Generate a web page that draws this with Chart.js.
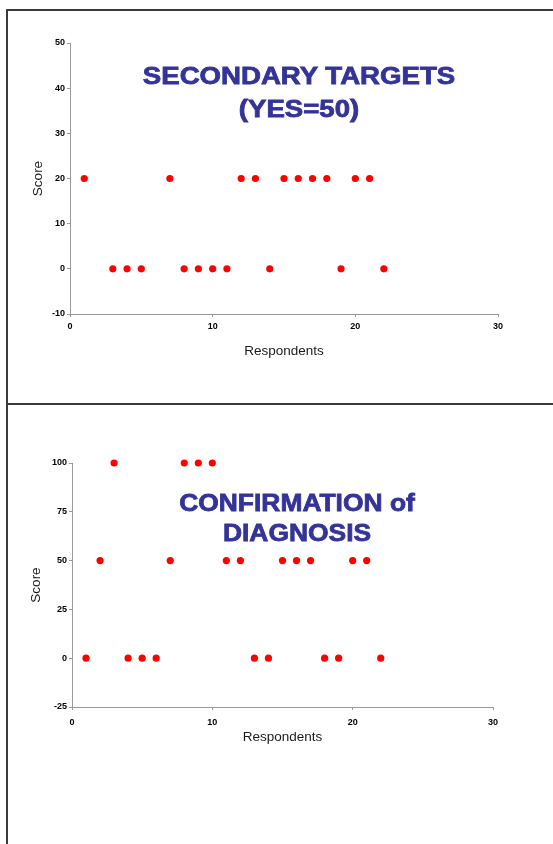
<!DOCTYPE html>
<html>
<head>
<meta charset="utf-8">
<script src="https://cdn.jsdelivr.net/npm/chart.js@4.4.0/dist/chart.umd.min.js"></script>
<style>
  html, body { margin: 0; padding: 0; background: #fff; }
  body { width: 553px; height: 844px; position: relative; overflow: hidden; font-family: "Liberation Sans", Arial, sans-serif; }
  .frameLeft { position: absolute; left: 6px; top: 9px; width: 2px; height: 835px; background: #3a3a3a; }
  .frameTop { position: absolute; left: 6px; top: 9px; width: 547px; height: 2px; background: #3a3a3a; }
  .frameMid { position: absolute; left: 6px; top: 403px; width: 547px; height: 2px; background: #3a3a3a; }
  .box { position: absolute; left: 0; }
  .title { position: absolute; color: #333399; font-weight: bold; font-size: 24px; text-align: center; white-space: nowrap; width: 400px; -webkit-text-stroke: 0.8px #333399; }
</style>
</head>
<body>
<div class="frameTop"></div>
<div class="frameLeft"></div>
<div class="frameMid"></div>

<div class="box" style="top:0"><canvas id="secondaryChart" width="553" height="400"></canvas></div>
<div class="box" style="top:404px"><canvas id="confirmChart" width="553" height="440"></canvas></div>

<div class="title" style="left:99px; top:59px; line-height:33px; transform:scaleX(1.15);">SECONDARY TARGETS<br>(YES=50)</div>
<div class="title" style="left:97px; top:488px; line-height:30px; transform:scaleX(1.1);">CONFIRMATION of<br>DIAGNOSIS</div>

<script>
// secondary targets (YES=50)
const secRespondents = [1, 3, 4, 5, 7, 8, 9, 10, 11, 12, 13, 14, 15, 16, 17, 18, 19, 20, 21, 22];
const secScores = [20, 0, 0, 0, 20, 0, 0, 0, 0, 20, 20, 0, 20, 20, 20, 20, 0, 20, 20, 0];

// confirmation of diagnosis
const confRespondents = [1, 2, 3, 4, 5, 6, 7, 8, 9, 10, 11, 12, 13, 14, 15, 16, 17, 18, 19, 20, 21, 22];
const confScores = [0, 50, 100, 0, 0, 0, 50, 100, 100, 100, 50, 50, 0, 0, 50, 50, 50, 0, 0, 50, 50, 0];

const xTicks = { min: 0, max: 30, step: 10 };
const secYTicks = { min: -10, max: 50, step: 10 };
const confYTicks = { min: -25, max: 100, step: 25 };

const axisGray = "#999999";
const tickFont = { family: "Liberation Sans, Arial", size: 9, weight: "bold" };
const titleFont = { family: "Liberation Sans, Arial", size: 13.5 };

function toPoints(xs, ys) {
  return xs.map((x, i) => ({ x: x, y: ys[i] }));
}

function noPadding(scale) {
  scale.paddingTop = 0;
  scale.paddingBottom = 0;
  scale.paddingLeft = 0;
  scale.paddingRight = 0;
}

function scatterChart(canvasId, points, yTicks, opts) {
  const ctx = document.getElementById(canvasId);
  return new Chart(ctx, {
    type: "scatter",
    data: {
      datasets: [{ data: points, backgroundColor: "#ff0000", borderWidth: 0, pointRadius: 3.6, pointHoverRadius: 3.6, clip: false }],
    },
    options: {
      responsive: false,
      animation: false,
      layout: { padding: opts.padding },
      plugins: { legend: { display: false }, tooltip: { enabled: false } },
      scales: {
        x: {
          type: "linear",
          min: xTicks.min,
          max: xTicks.max,
          ticks: { stepSize: xTicks.step, color: "#000", font: tickFont, padding: opts.xTickPad, maxRotation: 0 },
          grid: { drawOnChartArea: false, color: axisGray, tickLength: 3 },
          border: { color: axisGray, width: 1 },
          title: { display: true, text: "Respondents", color: "#1a1a1a", font: titleFont, padding: { top: 0, bottom: 1 } },
          afterFit: (scale) => { scale.height = opts.xHeight; noPadding(scale); },
        },
        y: {
          min: yTicks.min,
          max: yTicks.max,
          ticks: { stepSize: yTicks.step, color: "#000", font: tickFont, padding: 2 },
          grid: { drawOnChartArea: false, color: axisGray, tickLength: 3 },
          border: { color: axisGray, width: 1 },
          title: { display: true, text: "Score", color: "#1a1a1a", font: titleFont, padding: { top: opts.yTitlePad, bottom: 0 } },
          afterFit: (scale) => { scale.width = opts.yWidth; noPadding(scale); },
        },
      },
    },
  });
}

scatterChart("secondaryChart", toPoints(secRespondents, secScores), secYTicks, {
  padding: { left: 0, top: 43, right: 55, bottom: 40 },
  yWidth: 70,
  xHeight: 46,
  xTickPad: 4,
  yTitlePad: 30,
});

scatterChart("confirmChart", toPoints(confRespondents, confScores), confYTicks, {
  padding: { left: 0, top: 59, right: 60, bottom: 98 },
  yWidth: 72,
  xHeight: 39,
  xTickPad: 7,
  yTitlePad: 28,
});
</script>
</body>
</html>
